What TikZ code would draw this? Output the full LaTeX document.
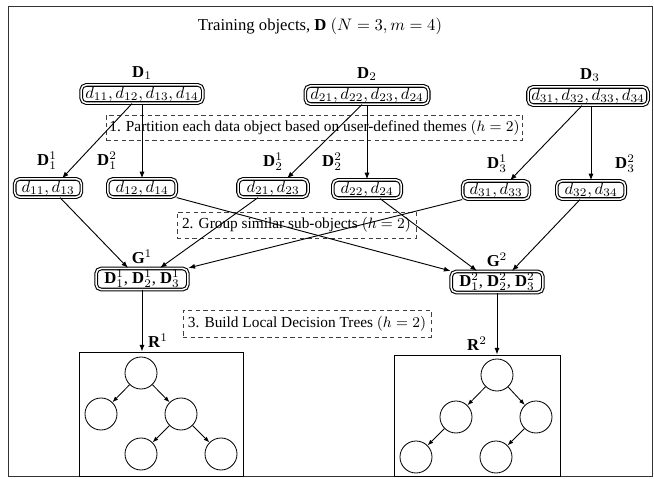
\documentclass[tikz,border=0pt]{standalone}
\usepackage{fontspec}
\setmainfont{Liberation Serif}
\usetikzlibrary{arrows.meta,calc}
\begin{document}
\begin{tikzpicture}[x=0.6pt,y=-0.6pt,
  lab/.style={inner sep=0pt,font=\fontsize{10}{12}\selectfont},
  dbox/.style={draw,double,double distance=0.9pt,line width=0.65pt,rounded corners=3pt,inner sep=1pt,minimum height=10.6pt,font=\fontsize{10}{12}\selectfont},
  dashbox/.style={draw=black!75,dash pattern=on 2.6pt off 2pt,line width=0.5pt,inner sep=0pt,font=\fontsize{9.2}{11}\selectfont},
  arr/.style={-{Latex[length=4pt,width=3pt]},line width=0.55pt},
  tarr/.style={-{Latex[length=3.5pt,width=2.6pt]},line width=0.5pt},
  tnode/.style={draw,circle,minimum size=19.2pt,inner sep=0pt,line width=0.5pt},
  rbox/.style={draw,line width=0.5pt,inner sep=0pt}]
\useasboundingbox (0,0) rectangle (654,479);
\draw[line width=0.6pt,black!80] (8,6) rectangle (652,476);

% title
\node[lab] (title) at (320,26) {Training objects, $\mathbf{D}$ $(N=3, m=4)$};

% level 1
\node[lab] (lD1) at (142,73) {$\mathbf{D}_1$};
\node[lab] (lD2) at (367,74) {$\mathbf{D}_2$};
\node[lab] (lD3) at (590,75) {$\mathbf{D}_3$};
\node[dbox,minimum width=73pt] (D1) at (142,94) {$d_{11}, d_{12}, d_{13}, d_{14}$};
\node[dbox,minimum width=74pt] (D2) at (367,95) {$d_{21}, d_{22}, d_{23}, d_{24}$};
\node[dbox,minimum width=72pt] (D3) at (588,96) {$d_{31}, d_{32}, d_{33}, d_{34}$};

% step 1
\node[dashbox,minimum width=250pt,minimum height=15pt] (s1) at (314.5,127.5) {1. Partition each data object based on user-defined themes $(h=2)$};

% level 2
\node[lab] (lD11) at (47,161) {$\mathbf{D}_1^1$};
\node[lab] (lD12) at (107,161) {$\mathbf{D}_1^2$};
\node[lab] (lD21) at (273,162) {$\mathbf{D}_2^1$};
\node[lab] (lD22) at (332,162) {$\mathbf{D}_2^2$};
\node[lab] (lD31) at (497,164) {$\mathbf{D}_3^1$};
\node[lab] (lD32) at (625,164) {$\mathbf{D}_3^2$};
\node[dbox,minimum width=40pt] (D11) at (48,188) {$d_{11}, d_{13}$};
\node[dbox,minimum width=41pt] (D12) at (142,188) {$d_{12}, d_{14}$};
\node[dbox,minimum width=42pt] (D21) at (273,188) {$d_{21}, d_{23}$};
\node[dbox,minimum width=41pt] (D22) at (367,189) {$d_{22}, d_{24}$};
\node[dbox,minimum width=40pt] (D31) at (496,190) {$d_{31}, d_{33}$};
\node[dbox,minimum width=41pt] (D32) at (591,190) {$d_{32}, d_{34}$};

\draw[arr] ($(D1.south)+(-10,0)$) -- ($(D11.north)+(14,0)$);
\draw[arr] (D1.south) -- (D12.north);
\draw[arr] ($(D2.south)+(-5,0)$) -- ($(D21.north)+(14,0)$);
\draw[arr] (D2.south) -- (D22.north);
\draw[arr] ($(D3.south)+(-6,0)$) -- ($(D31.north)+(14,0)$);
\draw[arr] ($(D3.south)+(3,0)$) -- (D32.north);

% step 2
\node[dashbox,minimum width=143.4pt,minimum height=15.6pt] (s2) at (296.5,225) {2. Group similar sub-objects $(h=2)$};

% groups
\node[lab] (lG1) at (142,257) {$\mathbf{G}^1$};
\node[lab] (lG2) at (497,260) {$\mathbf{G}^2$};
\node[dbox,minimum width=55pt,minimum height=12pt] (G1) at (142,279) {$\mathbf{D}_1^1$, $\mathbf{D}_2^1$, $\mathbf{D}_3^1$};
\node[dbox,minimum width=55pt,minimum height=12pt] (G2) at (497,282) {$\mathbf{D}_1^2$, $\mathbf{D}_2^2$, $\mathbf{D}_3^2$};

\draw[arr] ($(D11.south)+(12,0)$) -- ($(G1.north)+(-14,0)$);
\draw[arr] ($(D21.south)+(-15,0)$) -- ($(G1.north)+(18,0)$);
\draw[arr] (D31.south west) -- (G1.north east);
\draw[arr] (D12.south east) -- (G2.north west);
\draw[arr] ($(D22.south)+(13,0)$) -- ($(G2.north)+(-20,0)$);
\draw[arr] ($(D32.south)+(-11,0)$) -- ($(G2.north)+(15,0)$);

% step 3
\node[dashbox,minimum width=148.8pt,minimum height=16.2pt] (s3) at (307,323.5) {3. Build Local Decision Trees $(h=2)$};

% trees
\node[lab] (lR1) at (158,341) {$\mathbf{R}^1$};
\node[lab] (lR2) at (477,344) {$\mathbf{R}^2$};
\node[rbox,minimum width=98.4pt,minimum height=74.4pt] (R1) at (161,414) {};
\node[rbox,minimum width=99.6pt,minimum height=72.6pt] (R2) at (477,415.5) {};
\draw[arr] (G1.south) -- (G1.south |- R1.north);
\draw[arr] (G2.south) -- (G2.south |- R2.north);

\node[tnode] (a0) at (141,373) {};
\node[tnode] (a1) at (101,414) {};
\node[tnode] (a2) at (181,414) {};
\node[tnode] (a3) at (141,454) {};
\node[tnode] (a4) at (221,454) {};
\draw[tarr] (a0) -- (a1);
\draw[tarr] (a0) -- (a2);
\draw[tarr] (a2) -- (a3);
\draw[tarr] (a2) -- (a4);

\node[tnode] (b0) at (497,375) {};
\node[tnode] (b1) at (456,417) {};
\node[tnode] (b2) at (536,417) {};
\node[tnode] (b3) at (416,457) {};
\node[tnode] (b4) at (496,457) {};
\draw[tarr] (b0) -- (b1);
\draw[tarr] (b0) -- (b2);
\draw[tarr] (b1) -- (b3);
\draw[tarr] (b2) -- (b4);
\end{tikzpicture}
\end{document}
